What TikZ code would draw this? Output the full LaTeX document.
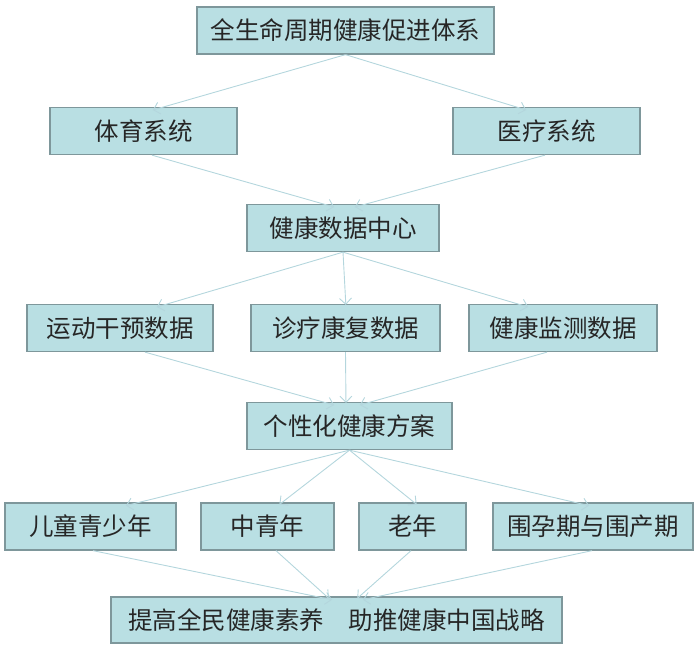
\documentclass[tikz,border=0pt]{standalone}
\usepackage{fontspec}
\setmainfont{Noto Sans CJK SC}
\usetikzlibrary{arrows.meta}

\definecolor{boxfill}{HTML}{B9DFE3}
\definecolor{boxline}{HTML}{7E979B}
\definecolor{linkcol}{HTML}{B4D6DD}
\definecolor{textcol}{HTML}{262626}

\begin{document}
\begin{tikzpicture}[x=1pt, y=-1pt,
    box/.style={draw=boxline, line width=1.3pt, fill=boxfill, text=textcol,
        minimum height=47pt, inner sep=0pt, font=\fontsize{24.5}{27}\selectfont},
    link/.style={draw=linkcol, line width=0.9pt,
        -{Straight Barb[length=6pt, width=12pt]}, shorten >=3pt}]
            \useasboundingbox (0,0) rectangle (696,645);

            % Top
            \node[box, minimum width=297pt] (sys) at (345.5,30.5) {全生命周期健康促进体系};

            % Systems
            \node[box, minimum width=187pt] (sport) at (143.5,131) {体育系统};
            \node[box, minimum width=187pt] (med) at (546.5,131) {医疗系统};

            % Data center
            \node[box, minimum width=192pt] (data) at (343,228) {健康数据中心};

            % Data kinds
            \node[box, minimum width=186pt] (exer) at (120,328) {运动干预数据};
            \node[box, minimum width=189pt] (diag) at (345.5,328) {诊疗康复数据};
            \node[box, minimum width=188pt] (mon) at (563,328) {健康监测数据};

            % Plan
            \node[box, minimum width=205pt] (plan) at (349.5,426) {个性化健康方案};

            % Groups
            \node[box, minimum width=171pt] (child) at (90.5,526.5) {儿童青少年};
            \node[box, minimum width=133pt] (adult) at (267.5,526.5) {中青年};
            \node[box, minimum width=107pt] (elder) at (412.5,526.5) {老年};
            \node[box, minimum width=200pt] (preg) at (593,526.5) {围孕期与围产期};

            % Goal
            \node[box, minimum width=451pt, minimum height=46pt] (goal) at (336.5,620)
                {提高全民健康素养\hspace{1em}助推健康中国战略};

            % Links: from / shift / to / shift
            \foreach \a/\sa/\b/\sb in {
                sys/0/sport/6.5, sys/0/med/-17.5,
                sport/8.5/data/-6, med/-1.5/data/9,
                data/0/exer/34, data/0/diag/0.5, data/0/mon/-32,
                exer/25/plan/-12.5, diag/0/plan/-3.5, mon/-16/plan/7.5,
                plan/0/child/32.5, plan/0/adult/9.5, plan/0/elder/6.5, plan/0/preg/-1,
                child/2.5/goal/-1.5, adult/8.5/goal/-5.5,
                elder/-1.5/goal/18.5, preg/-1/goal/23.5}
                \draw[link] ([xshift=\sa pt]\a.south) -- ([xshift=\sb pt, yshift=-4pt]\b.north);
        \end{tikzpicture}
\end{document}
